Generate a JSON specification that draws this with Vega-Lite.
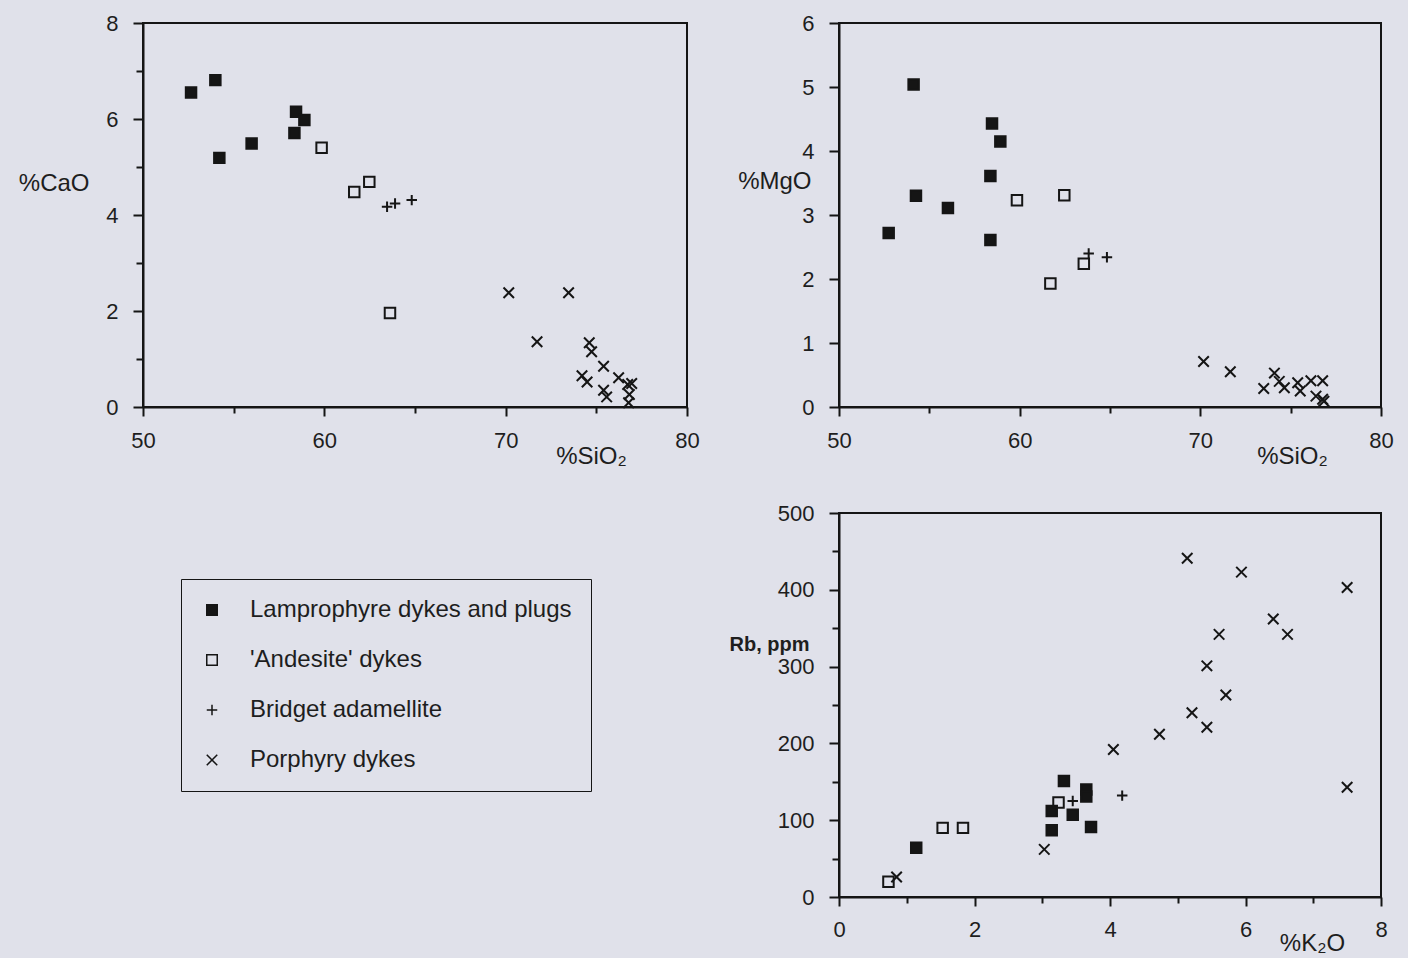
{
  "$schema": "https://vega.github.io/schema/vega-lite/v6.json",
  "background": "#e0e1ea",
  "padding": {"left": 17, "top": 11, "right": 13, "bottom": 2},
  "config": {
    "font": "Liberation Sans",
    "view": {"stroke": "#151515", "strokeWidth": 2},
    "axis": {
      "grid": false,
      "domainColor": "#151515", "domainWidth": 2,
      "tickColor": "#151515", "tickWidth": 2,
      "labelFont": "Liberation Sans", "labelFontSize": 22, "labelColor": "#1e1e1e",
      "titleFont": "Liberation Sans", "titleFontSize": 24, "titleFontWeight": "normal", "titleColor": "#1e1e1e",
      "labelFlush": false, "labelOverlap": false
    }
  },
  "datasets": {
    "cao": [
      {"group": "Lamprophyre dykes and plugs", "SiO2": 52.65, "CaO": 6.55},
      {"group": "Lamprophyre dykes and plugs", "SiO2": 53.99, "CaO": 6.81},
      {"group": "Lamprophyre dykes and plugs", "SiO2": 54.21, "CaO": 5.19},
      {"group": "Lamprophyre dykes and plugs", "SiO2": 55.99, "CaO": 5.49},
      {"group": "Lamprophyre dykes and plugs", "SiO2": 58.44, "CaO": 6.15},
      {"group": "Lamprophyre dykes and plugs", "SiO2": 58.90, "CaO": 5.98},
      {"group": "Lamprophyre dykes and plugs", "SiO2": 58.35, "CaO": 5.71},
      {"group": "'Andesite' dykes", "SiO2": 59.85, "CaO": 5.40},
      {"group": "'Andesite' dykes", "SiO2": 61.65, "CaO": 4.48},
      {"group": "'Andesite' dykes", "SiO2": 62.48, "CaO": 4.69},
      {"group": "'Andesite' dykes", "SiO2": 63.62, "CaO": 1.96},
      {"group": "Bridget adamellite", "SiO2": 63.46, "CaO": 4.17},
      {"group": "Bridget adamellite", "SiO2": 63.90, "CaO": 4.24},
      {"group": "Bridget adamellite", "SiO2": 64.82, "CaO": 4.31},
      {"group": "Porphyry dykes", "SiO2": 70.17, "CaO": 2.38},
      {"group": "Porphyry dykes", "SiO2": 73.47, "CaO": 2.38},
      {"group": "Porphyry dykes", "SiO2": 71.73, "CaO": 1.36},
      {"group": "Porphyry dykes", "SiO2": 74.61, "CaO": 1.34},
      {"group": "Porphyry dykes", "SiO2": 74.74, "CaO": 1.15},
      {"group": "Porphyry dykes", "SiO2": 75.40, "CaO": 0.85},
      {"group": "Porphyry dykes", "SiO2": 74.21, "CaO": 0.65},
      {"group": "Porphyry dykes", "SiO2": 74.49, "CaO": 0.52},
      {"group": "Porphyry dykes", "SiO2": 76.23, "CaO": 0.61},
      {"group": "Porphyry dykes", "SiO2": 75.40, "CaO": 0.35},
      {"group": "Porphyry dykes", "SiO2": 75.57, "CaO": 0.21},
      {"group": "Porphyry dykes", "SiO2": 76.73, "CaO": 0.47},
      {"group": "Porphyry dykes", "SiO2": 76.95, "CaO": 0.49},
      {"group": "Porphyry dykes", "SiO2": 76.82, "CaO": 0.26},
      {"group": "Porphyry dykes", "SiO2": 76.78, "CaO": 0.09}
    ],
    "mgo": [
      {"group": "Lamprophyre dykes and plugs", "SiO2": 54.13, "MgO": 5.04},
      {"group": "Lamprophyre dykes and plugs", "SiO2": 58.47, "MgO": 4.43},
      {"group": "Lamprophyre dykes and plugs", "SiO2": 58.93, "MgO": 4.15},
      {"group": "Lamprophyre dykes and plugs", "SiO2": 58.38, "MgO": 3.61},
      {"group": "Lamprophyre dykes and plugs", "SiO2": 54.26, "MgO": 3.30},
      {"group": "Lamprophyre dykes and plugs", "SiO2": 56.03, "MgO": 3.11},
      {"group": "Lamprophyre dykes and plugs", "SiO2": 52.75, "MgO": 2.72},
      {"group": "Lamprophyre dykes and plugs", "SiO2": 58.38, "MgO": 2.61},
      {"group": "'Andesite' dykes", "SiO2": 59.85, "MgO": 3.23},
      {"group": "'Andesite' dykes", "SiO2": 62.47, "MgO": 3.31},
      {"group": "'Andesite' dykes", "SiO2": 63.55, "MgO": 2.24},
      {"group": "'Andesite' dykes", "SiO2": 61.70, "MgO": 1.93},
      {"group": "Bridget adamellite", "SiO2": 63.82, "MgO": 2.40},
      {"group": "Bridget adamellite", "SiO2": 64.83, "MgO": 2.34},
      {"group": "Porphyry dykes", "SiO2": 70.18, "MgO": 0.71},
      {"group": "Porphyry dykes", "SiO2": 71.66, "MgO": 0.55},
      {"group": "Porphyry dykes", "SiO2": 73.51, "MgO": 0.29},
      {"group": "Porphyry dykes", "SiO2": 74.10, "MgO": 0.53},
      {"group": "Porphyry dykes", "SiO2": 74.37, "MgO": 0.40},
      {"group": "Porphyry dykes", "SiO2": 74.65, "MgO": 0.30},
      {"group": "Porphyry dykes", "SiO2": 75.39, "MgO": 0.38},
      {"group": "Porphyry dykes", "SiO2": 75.53, "MgO": 0.25},
      {"group": "Porphyry dykes", "SiO2": 76.12, "MgO": 0.41},
      {"group": "Porphyry dykes", "SiO2": 76.77, "MgO": 0.41},
      {"group": "Porphyry dykes", "SiO2": 76.40, "MgO": 0.17},
      {"group": "Porphyry dykes", "SiO2": 76.77, "MgO": 0.12},
      {"group": "Porphyry dykes", "SiO2": 76.84, "MgO": 0.09}
    ],
    "rb": [
      {"group": "Lamprophyre dykes and plugs", "K2O": 1.14, "Rb": 64},
      {"group": "Lamprophyre dykes and plugs", "K2O": 3.32, "Rb": 151},
      {"group": "Lamprophyre dykes and plugs", "K2O": 3.65, "Rb": 140},
      {"group": "Lamprophyre dykes and plugs", "K2O": 3.65, "Rb": 131},
      {"group": "Lamprophyre dykes and plugs", "K2O": 3.14, "Rb": 112},
      {"group": "Lamprophyre dykes and plugs", "K2O": 3.45, "Rb": 107},
      {"group": "Lamprophyre dykes and plugs", "K2O": 3.14, "Rb": 87},
      {"group": "Lamprophyre dykes and plugs", "K2O": 3.72, "Rb": 91},
      {"group": "'Andesite' dykes", "K2O": 0.73, "Rb": 20},
      {"group": "'Andesite' dykes", "K2O": 1.53, "Rb": 90},
      {"group": "'Andesite' dykes", "K2O": 1.83, "Rb": 90},
      {"group": "'Andesite' dykes", "K2O": 3.24, "Rb": 123},
      {"group": "Bridget adamellite", "K2O": 3.45, "Rb": 125},
      {"group": "Bridget adamellite", "K2O": 4.18, "Rb": 132},
      {"group": "Porphyry dykes", "K2O": 5.14, "Rb": 441},
      {"group": "Porphyry dykes", "K2O": 5.94, "Rb": 423},
      {"group": "Porphyry dykes", "K2O": 7.50, "Rb": 403},
      {"group": "Porphyry dykes", "K2O": 6.41, "Rb": 362},
      {"group": "Porphyry dykes", "K2O": 6.62, "Rb": 342},
      {"group": "Porphyry dykes", "K2O": 5.61, "Rb": 342},
      {"group": "Porphyry dykes", "K2O": 5.43, "Rb": 301},
      {"group": "Porphyry dykes", "K2O": 5.71, "Rb": 263},
      {"group": "Porphyry dykes", "K2O": 5.21, "Rb": 240},
      {"group": "Porphyry dykes", "K2O": 5.43, "Rb": 221},
      {"group": "Porphyry dykes", "K2O": 4.73, "Rb": 212},
      {"group": "Porphyry dykes", "K2O": 4.05, "Rb": 192},
      {"group": "Porphyry dykes", "K2O": 7.50, "Rb": 143},
      {"group": "Porphyry dykes", "K2O": 3.03, "Rb": 62},
      {"group": "Porphyry dykes", "K2O": 0.85, "Rb": 26}
    ]
  },
  "resolve": {"legend": {"shape": "independent", "fill": "independent"}},
  "spacing": 21,
  "hconcat": [
    {
      "width": 544, "height": 384,
      "data": {"name": "cao"},
      "mark": {"type": "point", "filled": true, "stroke": "#151515", "strokeWidth": 2, "opacity": 1, "size": 110},
      "encoding": {
        "x": {"field": "SiO2", "type": "quantitative",
          "scale": {"domain": [50, 80], "nice": false, "zero": false},
          "axis": {"values": [50, 55, 60, 65, 70, 75, 80], "format": "d",
            "labelExpr": "datum.value % 10 === 0 ? datum.label : ''",
            "tickSize": {"condition": {"test": "datum.value % 10 !== 0", "value": 6}, "value": 9},
            "labelPadding": 14,
            "title": "%SiO₂", "titleX": 448, "titleY": 56, "titleAlign": "center", "titleBaseline": "alphabetic"}},
        "y": {"field": "CaO", "type": "quantitative",
          "scale": {"domain": [0, 8], "nice": false},
          "axis": {"values": [0, 1, 2, 3, 4, 5, 6, 7, 8], "format": "d",
            "labelExpr": "datum.value % 2 === 0 ? datum.label : ''",
            "tickSize": {"condition": {"test": "datum.value % 2 !== 0", "value": 7}, "value": 10},
            "labelPadding": 15,
            "title": "%CaO", "titleAngle": 0, "titleX": -54, "titleY": 160, "titleAlign": "right", "titleBaseline": "middle"}},
        "shape": {"field": "group", "type": "nominal",
          "scale": {"domain": ["Lamprophyre dykes and plugs", "'Andesite' dykes", "Bridget adamellite", "Porphyry dykes"],
                    "range": ["square", "square", "M-1,0H1M0,-1V1", "M-1,-1L1,1M-1,1L1,-1"]},
          "legend": {"orient": "none", "legendX": 38, "legendY": 556, "title": null,
            "strokeColor": "#151515", "padding": 19, "labelFontSize": 24, "labelColor": "#1e1e1e", "labelFont": "Liberation Sans",
            "symbolSize": 110, "rowPadding": 26, "labelOffset": 26, "labelLimit": 500,
            "encode": {"symbols": {"update": {"stroke": {"value": "#151515"}, "strokeWidth": {"value": 2}, "opacity": {"value": 1}}}}}},
        "fill": {"field": "group", "type": "nominal",
          "scale": {"domain": ["Lamprophyre dykes and plugs", "'Andesite' dykes", "Bridget adamellite", "Porphyry dykes"],
                    "range": ["#151515", "transparent", "transparent", "transparent"]},
          "legend": {"orient": "none", "legendX": 38, "legendY": 556, "title": null,
            "strokeColor": "#151515", "padding": 19, "labelFontSize": 24, "labelColor": "#1e1e1e", "labelFont": "Liberation Sans",
            "symbolSize": 110, "rowPadding": 26, "labelOffset": 26, "labelLimit": 500,
            "encode": {"symbols": {"update": {"stroke": {"value": "#151515"}, "strokeWidth": {"value": 2}, "opacity": {"value": 1}}}}}}
      }
    },
    {
      "spacing": 32,
      "vconcat": [
        {
          "width": 542, "height": 384,
          "data": {"name": "mgo"},
          "mark": {"type": "point", "filled": true, "stroke": "#151515", "strokeWidth": 2, "opacity": 1, "size": 110},
          "encoding": {
            "x": {"field": "SiO2", "type": "quantitative",
              "scale": {"domain": [50, 80], "nice": false, "zero": false},
              "axis": {"values": [50, 55, 60, 65, 70, 75, 80], "format": "d",
                "labelExpr": "datum.value % 10 === 0 ? datum.label : ''",
                "tickSize": {"condition": {"test": "datum.value % 10 !== 0", "value": 6}, "value": 9},
                "labelPadding": 14,
                "title": "%SiO₂", "titleX": 453, "titleY": 56, "titleAlign": "center", "titleBaseline": "alphabetic"}},
            "y": {"field": "MgO", "type": "quantitative",
              "scale": {"domain": [0, 6], "nice": false},
              "axis": {"values": [0, 0.5, 1, 1.5, 2, 2.5, 3, 3.5, 4, 4.5, 5, 5.5, 6], "format": "d",
                "labelExpr": "datum.value % 1 === 0 ? datum.label : ''",
                "tickSize": {"condition": {"test": "datum.value % 1 !== 0", "value": 7}, "value": 10},
                "labelPadding": 15,
                "title": "%MgO", "titleAngle": 0, "titleX": -28, "titleY": 158, "titleAlign": "right", "titleBaseline": "middle"}},
            "shape": {"field": "group", "type": "nominal", "legend": null},
            "fill": {"field": "group", "type": "nominal", "legend": null}
          }
        },
        {
          "width": 542, "height": 384,
          "data": {"name": "rb"},
          "mark": {"type": "point", "filled": true, "stroke": "#151515", "strokeWidth": 2, "opacity": 1, "size": 110},
          "encoding": {
            "x": {"field": "K2O", "type": "quantitative",
              "scale": {"domain": [0, 8], "nice": false},
              "axis": {"values": [0, 1, 2, 3, 4, 5, 6, 7, 8], "format": "d",
                "labelExpr": "datum.value % 2 === 0 ? datum.label : ''",
                "tickSize": {"condition": {"test": "datum.value % 2 !== 0", "value": 6}, "value": 9},
                "labelPadding": 13,
                "title": "%K₂O", "titleX": 473, "titleY": 53, "titleAlign": "center", "titleBaseline": "alphabetic"}},
            "y": {"field": "Rb", "type": "quantitative",
              "scale": {"domain": [0, 500], "nice": false},
              "axis": {"values": [0, 50, 100, 150, 200, 250, 300, 350, 400, 450, 500], "format": "d",
                "labelExpr": "datum.value % 100 === 0 ? datum.label : ''",
                "tickSize": {"condition": {"test": "datum.value % 100 !== 0", "value": 7}, "value": 10},
                "labelPadding": 15,
                "title": "Rb,  ppm", "titleFontWeight": "bold", "titleFontSize": 20, "titleAngle": 0, "titleX": -30, "titleY": 131, "titleAlign": "right", "titleBaseline": "middle"}},
            "shape": {"field": "group", "type": "nominal", "legend": null},
            "fill": {"field": "group", "type": "nominal", "legend": null}
          }
        }
      ]
    }
  ]
}
